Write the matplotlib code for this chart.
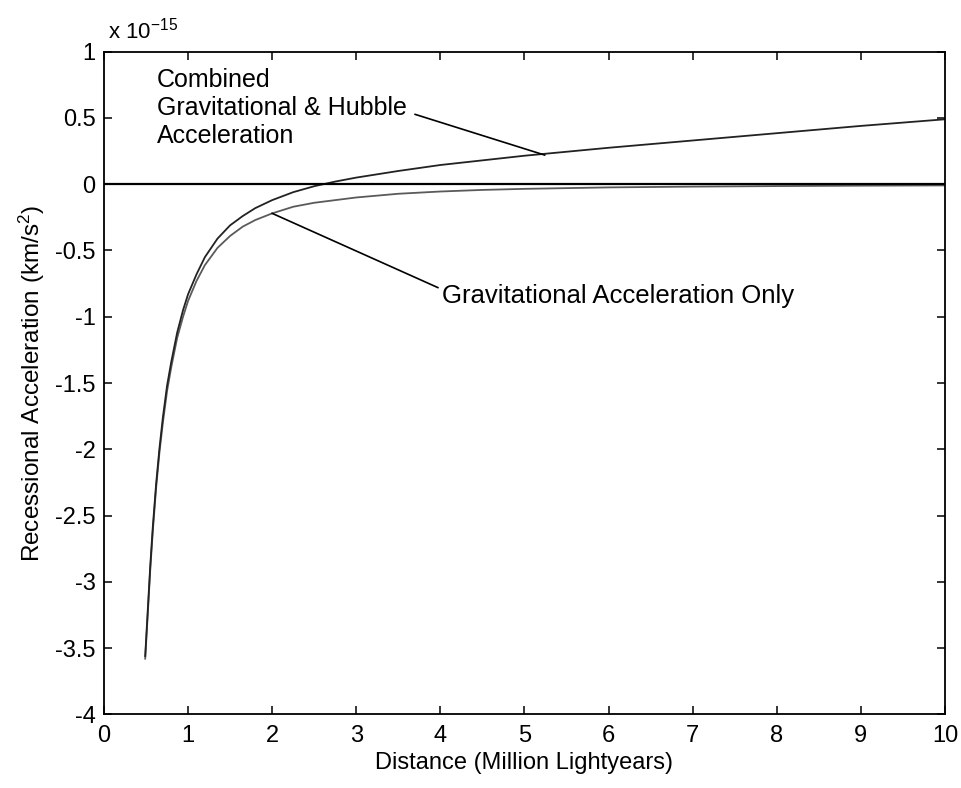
import numpy as np
import matplotlib.pyplot as plt
from matplotlib.ticker import FixedLocator, FuncFormatter

plt.rcParams["font.family"] = ["Liberation Sans", "DejaVu Sans"]
plt.rcParams["mathtext.fontset"] = "custom"
plt.rcParams["mathtext.rm"] = "Liberation Sans"
plt.rcParams["mathtext.it"] = "Liberation Sans"
plt.rcParams["axes.unicode_minus"] = False

# distance in million lightyears, acceleration in units of 1e-15 km/s^2
distance = np.array([0.49, 0.52, 0.55, 0.58, 0.62, 0.66, 0.70, 0.75, 0.80, 0.87,
                     0.94, 1.0, 1.1, 1.2, 1.35, 1.5, 1.65, 1.8, 2.0, 2.25,
                     2.5, 2.75, 3.0, 3.5, 4.0, 4.5, 5.0, 6.0, 7.0, 8.0, 9.0, 10.0])
grav_only = np.array([-3.58, -3.25, -2.91, -2.62, -2.29, -2.02, -1.80, -1.56, -1.38, -1.16,
                      -1.00, -0.88, -0.73, -0.61, -0.48, -0.39, -0.32, -0.27, -0.22, -0.17,
                      -0.14, -0.12, -0.10, -0.072, -0.055, -0.043, -0.035, -0.024, -0.018,
                      -0.014, -0.011, -0.009])
combined = np.array([-3.56, -3.22, -2.88, -2.59, -2.26, -1.99, -1.76, -1.52, -1.34, -1.12,
                     -0.95, -0.83, -0.68, -0.55, -0.41, -0.31, -0.24, -0.18, -0.12, -0.06,
                     -0.015, 0.02, 0.05, 0.10, 0.145, 0.18, 0.215, 0.275, 0.33, 0.385,
                     0.44, 0.49])

xticks = np.arange(0, 11, 1)
yticks = np.arange(-4, 1.01, 0.5)

fig = plt.figure(figsize=(9.62, 7.88), dpi=100)
ax = fig.add_axes([0.1081, 0.0935, 0.8742, 0.8409])

ax.plot(distance, grav_only, color="#5a5a5a", lw=1.3)
ax.plot(distance, combined, color="#222222", lw=1.3)
ax.axhline(0, color="black", lw=1.6)

ax.set_xlim(0, 10)
ax.set_ylim(-4, 1)
ax.xaxis.set_major_locator(FixedLocator(xticks))
ax.yaxis.set_major_locator(FixedLocator(yticks))
fmt = FuncFormatter(lambda v, p: "%g" % v)
ax.xaxis.set_major_formatter(fmt)
ax.yaxis.set_major_formatter(fmt)
ax.tick_params(direction="in", length=6, width=1.1, top=True, right=True,
               labelsize=17)
ax.tick_params(axis="x", pad=8)
ax.tick_params(axis="y", pad=6)
for s in ax.spines.values():
    s.set_linewidth(1.3)

ax.set_xlabel("Distance (Million Lightyears)", fontsize=17, labelpad=3)
ax.set_ylabel("Recessional Acceleration (km/s$^2$)", fontsize=17.5, labelpad=6)

ax.text(0.005, 1.012, "x 10$^{-15}$", transform=ax.transAxes, fontsize=16,
        ha="left", va="bottom")

# annotations
ax.text(0.63, 0.875, "Combined\nGravitational & Hubble\nAcceleration", fontsize=18,
        ha="left", va="top", linespacing=1.2)
ax.plot([3.70, 5.24], [0.527, 0.22], color="black", lw=1.2)

ax.text(4.02, -0.84, "Gravitational Acceleration Only", fontsize=18.5,
        ha="left", va="center")
ax.plot([2.0, 3.97], [-0.22, -0.78], color="black", lw=1.2)

fig.savefig("out.png", dpi=100)
plt.close(fig)
